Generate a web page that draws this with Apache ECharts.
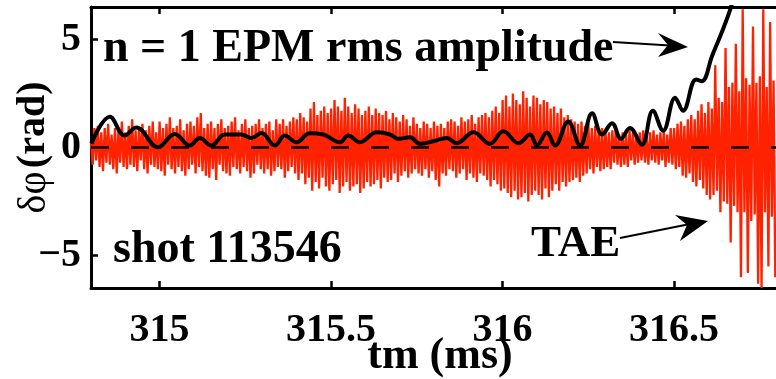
<!DOCTYPE html>
<html>
<head>
<meta charset="utf-8">
<script src="https://cdn.jsdelivr.net/npm/echarts@6/dist/echarts.min.js"></script>
<style>html,body{margin:0;padding:0;background:#fff;}#c{width:776px;height:379px;}</style>
</head>
<body>
<div id="c"></div>
<script>
// x ticks and y ticks
var xTicks = [315, 315.5, 316, 316.5];
var yTicks = [-5, 0, 5];

// n = 1 EPM rms amplitude (black curve)
var epmTime = [314.801, 314.855, 314.898, 314.932, 314.995, 315.044, 315.088, 315.117, 315.151, 315.190,
  315.238, 315.267, 315.297, 315.336, 315.365, 315.399, 315.438, 315.477, 315.526, 315.550,
  315.584, 315.633, 315.672, 315.696, 315.730, 315.759, 315.798, 315.837, 315.866, 315.915,
  315.963, 316.002, 316.046, 316.080, 316.100, 316.129, 316.153, 316.191, 316.226, 316.261,
  316.290, 316.319, 316.345, 316.371, 316.406, 316.438, 316.468, 316.503, 316.526, 316.564,
  316.581, 316.611, 316.637, 316.663, 316.680];
var epmValue = [0.17, 1.42, 0.55, 0.93, 0.01, 0.63, 0.09, 0.44, 0.09, 0.60,
  0.60, 0.44, 0.67, 0.09, 0.55, 0.24, 0.66, 0.60, 0.24, 0.55,
  0.24, 0.70, 0.60, 0.40, 0.47, 0.17, 0.29, 0.44, 0.20, 0.70,
  0.17, 0.75, 0.20, 0.60, 0.10, 0.69, 0.09, 1.20, 0.09, 1.58,
  0.60, 1.12, 0.40, 0.90, 0.13, 1.70, 0.78, 2.30, 1.70, 3.15,
  3.07, 4.25, 5.25, 6.35, 7.30];

// TAE signal (red), uniformly sampled
var taeStart = 314.8;
var taeStep = 0.005;
var taeValue = [
  0.3,-0.8,0.9,-0.6,1.0,-0.9,0.7,-1.1,0.9,-0.7,
  1.1,-0.8,0.6,-1.0,0.9,-1.2,0.8,-0.7,1.2,-0.9,
  0.7,-1.0,1.0,-0.8,1.3,-0.9,0.8,-1.1,0.9,-0.6,
  1.1,-1.0,0.8,-1.2,1.0,-0.8,1.2,-0.9,0.7,-1.0,
  1.2,-1.1,0.9,-1.3,1.1,-0.8,1.4,-1.0,0.9,-1.2,
  1.0,-0.9,1.3,-1.1,0.8,-1.3,1.1,-1.0,1.2,-0.8,
  1.0,-1.2,1.4,-0.9,1.6,-1.1,0.9,-1.3,1.1,-1.4,
  1.2,-1.0,0.9,-1.5,1.1,-0.8,1.3,-1.1,0.9,-1.2,
  1.0,-1.3,1.2,-0.9,1.4,-1.0,0.8,-1.2,1.1,-0.9,
  1.3,-1.1,0.9,-1.4,1.0,-1.2,1.1,-0.8,1.3,-1.0,
  0.9,-1.2,1.1,-1.0,1.2,-1.3,0.8,-1.1,1.3,-0.9,
  1.1,-1.0,1.3,-1.4,1.0,-1.1,1.2,-0.9,1.4,-1.2,
  1.3,-1.5,1.6,-1.2,1.4,-1.7,1.2,-1.4,1.8,-2.0,
  2.1,-1.6,1.5,-1.9,1.7,-1.4,1.9,-1.8,1.6,-2.0,
  1.8,-1.7,2.2,-1.5,1.9,-2.1,1.7,-1.8,2.3,-1.6,
  1.9,-2.0,1.6,-1.8,2.0,-1.7,1.8,-2.1,1.5,-1.9,
  1.7,-1.6,1.9,-1.8,1.5,-1.7,1.8,-1.5,1.6,-1.9,
  1.5,-1.4,1.7,-1.6,1.3,-1.5,1.6,-1.2,1.4,-1.6,
  1.2,-1.3,1.5,-1.1,1.3,-1.4,1.0,-1.2,1.4,-1.0,
  1.1,-1.2,0.9,-1.3,1.2,-1.0,1.1,-1.4,0.9,-1.1,
  1.2,-1.5,1.0,-1.8,1.1,-1.2,0.9,-1.3,1.2,-1.0,
  1.3,-1.1,1.2,-1.4,1.0,-1.2,1.4,-1.0,1.2,-1.5,
  1.3,-1.2,1.5,-1.4,1.1,-1.6,1.4,-1.2,1.5,-1.3,
  1.6,-1.5,1.4,-1.8,1.7,-1.5,1.9,-1.7,1.6,-2.0,
  2.2,-1.9,2.4,-2.1,1.9,-2.3,2.5,-2.0,2.2,-2.4,
  2.0,-2.3,2.6,-2.1,2.3,-2.5,1.9,-2.2,2.4,-2.0,
  2.3,-2.2,2.0,-2.4,2.2,-1.9,2.1,-2.3,1.8,-2.0,
  1.9,-1.7,1.6,-2.0,1.8,-1.6,1.4,-1.8,1.5,-1.6,
  1.3,-1.5,1.2,-1.4,1.1,-1.6,1.2,-1.3,1.0,-1.2,
  1.1,-1.0,0.9,-1.2,1.0,-0.9,0.8,-1.1,0.9,-1.0,
  0.8,-0.9,0.7,-1.0,0.8,-0.7,0.9,-0.8,0.6,-0.9,
  0.7,-0.8,0.6,-0.9,0.8,-0.6,0.7,-0.8,0.6,-0.7,
  0.7,-0.6,0.8,-0.7,0.5,-0.8,0.7,-0.6,0.8,-0.7,
  0.6,-0.8,0.7,-0.6,0.8,-0.9,0.6,-0.7,0.9,-0.8,
  0.9,-1.0,1.1,-0.9,1.2,-1.3,1.0,-1.4,1.3,-1.2,
  1.5,-1.6,1.3,-1.8,1.7,-1.5,2.0,-1.9,1.6,-2.2,
  2.1,-2.4,1.8,-2.2,3.8,-2.0,2.3,-3.0,2.1,-2.5,
  4.6,-2.6,2.8,-4.4,3.0,-2.7,4.8,-3.0,2.6,-6.0,
  6.4,-3.0,3.2,-5.8,2.9,-3.4,5.6,-3.1,3.0,-6.3,
  3.3,-6.5,6.4,-3.0,2.8,-5.5,5.8,-3.2,3.1,-6.0
];

var FONT = '"Liberation Serif", "Times New Roman", serif';

var taeData = taeValue.map(function (v, i) {
  return [+(taeStart + i * taeStep).toFixed(4), v];
});
var epmData = epmTime.map(function (t, i) { return [t, epmValue[i]]; });

var chart = echarts.init(document.getElementById('c'), null, {renderer: 'canvas'});

function txt(text, x, y, size) {
  return {
    type: 'text', z: 100,
    style: {
      text: text, x: x, y: y,
      font: 'bold ' + size + 'px ' + FONT,
      fill: '#000', textAlign: 'left', textVerticalAlign: 'middle'
    }
  };
}

chart.setOption({
  animation: false,
  backgroundColor: '#fff',
  grid: {left: 91, top: 7, width: 686, height: 281, containLabel: false, outerBoundsMode: 'none'},
  xAxis: [{
    type: 'value', min: 314.8, max: 316.8, position: 'bottom',
    name: 'tm (ms)', nameLocation: 'middle', nameGap: 47, nameMoveOverlap: false,
    nameTextStyle: {fontFamily: FONT, fontWeight: 'bold', fontSize: 44, color: '#000', padding: [0, 0, 0, 12]},
    axisLine: {show: true, onZero: false, lineStyle: {color: '#000', width: 3}},
    axisTick: {show: true, inside: true, length: 7, customValues: xTicks, lineStyle: {color: '#000', width: 2.5}},
    axisLabel: {show: true, customValues: xTicks, margin: 23, fontFamily: FONT, fontWeight: 'bold', fontSize: 40, color: '#000',
      formatter: function (v) { return String(v); }},
    splitLine: {show: false}
  }, {
    type: 'value', min: 314.8, max: 316.8, position: 'top',
    axisLine: {show: true, onZero: false, lineStyle: {color: '#000', width: 3}},
    axisTick: {show: true, inside: true, length: 7, customValues: xTicks, lineStyle: {color: '#000', width: 2.5}},
    axisLabel: {show: false},
    splitLine: {show: false}
  }],
  yAxis: {
    type: 'value', min: -6.5, max: 6.5,
    name: '{g|δφ} {b|(rad)}', nameLocation: 'middle', nameGap: 37, nameMoveOverlap: false,
    nameTextStyle: {
      color: '#000',
      rich: {
        g: {fontFamily: FONT, fontWeight: 'normal', fontSize: 40, color: '#000'},
        b: {fontFamily: FONT, fontWeight: 'bold', fontSize: 40, color: '#000'}
      }
    },
    axisLine: {show: true, onZero: false, lineStyle: {color: '#000', width: 3}},
    axisTick: {show: true, inside: true, length: 7, customValues: yTicks, lineStyle: {color: '#000', width: 2.5}},
    axisLabel: {show: true, customValues: yTicks, margin: 10, fontFamily: FONT, fontWeight: 'bold', fontSize: 40, color: '#000',
      formatter: function (v) { return v < 0 ? '\u2212' + (-v) : String(v); }},
    splitLine: {show: false}
  },
  series: [{
    type: 'line', name: 'TAE', xAxisIndex: 0, data: taeData,
    showSymbol: false, symbol: 'none', clip: true,
    lineStyle: {color: '#ff2200', width: 2.3},
    markLine: {
      silent: true, symbol: 'none', label: {show: false},
      lineStyle: {color: '#000', width: 2.5, type: [18, 22]},
      data: [{yAxis: 0}]
    },
    z: 2
  }, {
    type: 'line', name: 'EPM', xAxisIndex: 0, data: epmData,
    showSymbol: false, symbol: 'none', smooth: 0.4, clip: true,
    lineStyle: {color: '#000', width: 4},
    z: 5
  }],
  graphic: [
    txt('n = 1 EPM rms amplitude', 103, 49, 46),
    txt('shot 113546', 113, 250, 46),
    txt('TAE', 531, 244, 45),
    {type: 'line', z: 100, shape: {x1: 613, y1: 42, x2: 670, y2: 45.5}, style: {stroke: '#000', lineWidth: 2}},
    {type: 'polygon', z: 100, shape: {points: [[688, 47], [658, 33], [668, 45], [658, 57]]}, style: {fill: '#000'}},
    {type: 'line', z: 100, shape: {x1: 620, y1: 238, x2: 690, y2: 224}, style: {stroke: '#000', lineWidth: 2}},
    {type: 'polygon', z: 100, shape: {points: [[708, 221], [675, 215], [687, 225], [680, 241]]}, style: {fill: '#000'}}
  ]
});
</script>
</body>
</html>
